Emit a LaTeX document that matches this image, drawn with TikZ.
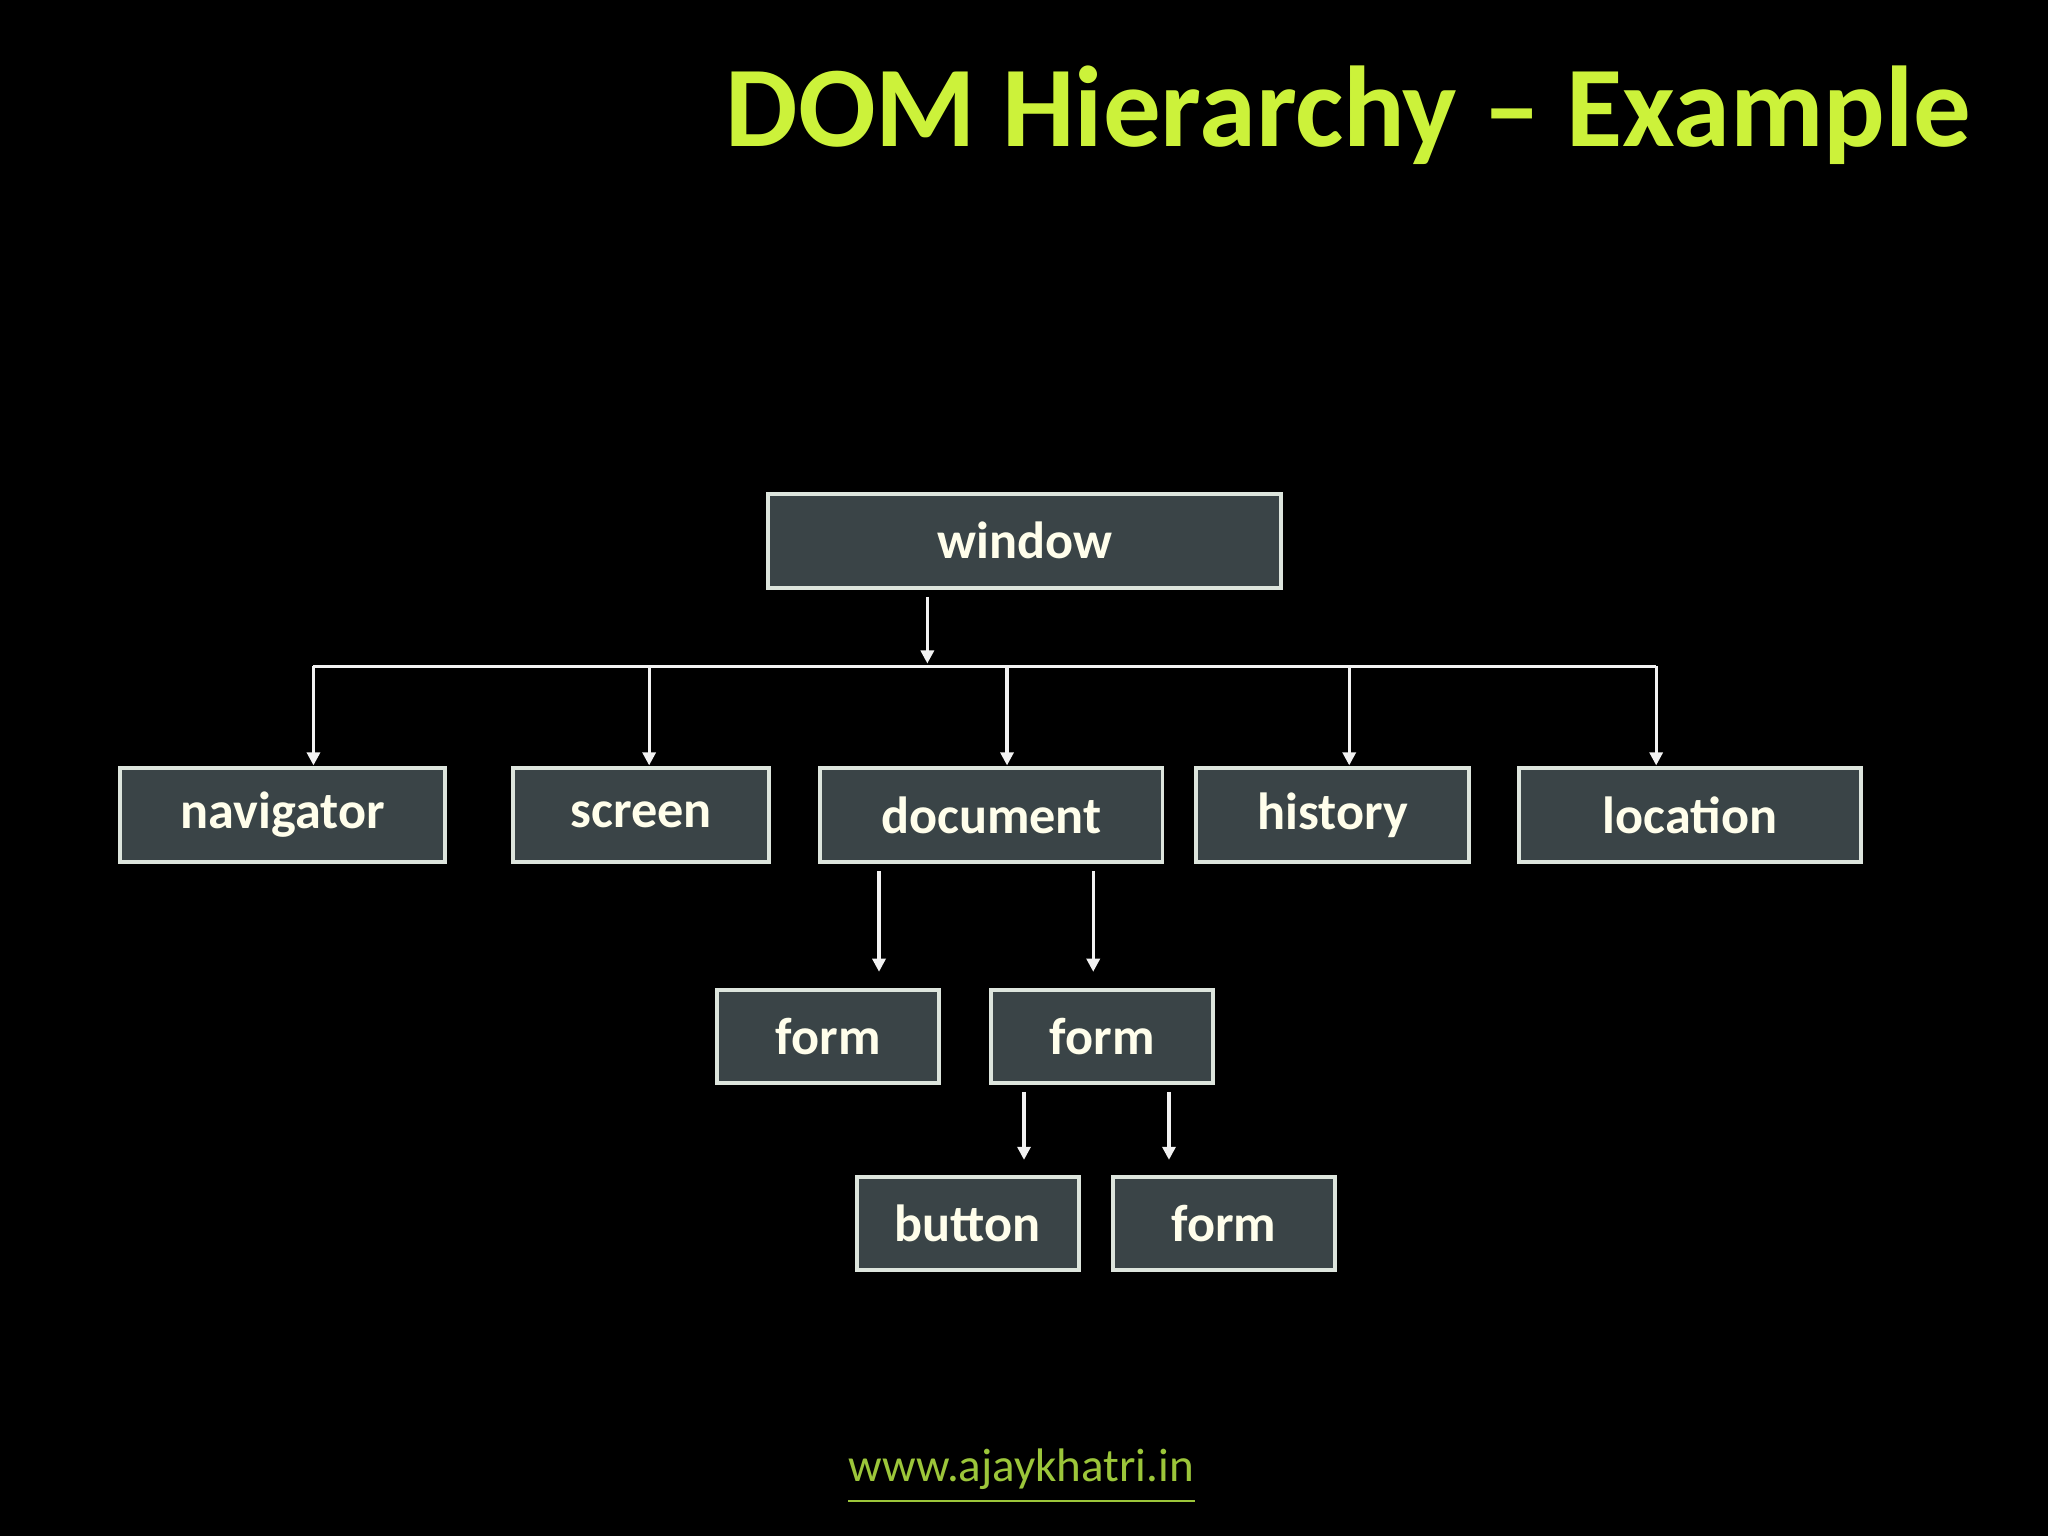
\documentclass[tikz,border=0pt]{standalone}
\usepackage{fontspec}
\setmainfont{Carlito}
\usetikzlibrary{arrows.meta}
\definecolor{boxfill}{HTML}{3A4447}
\definecolor{boxline}{HTML}{DDE5DD}
\definecolor{title}{HTML}{CCF23A}
\definecolor{link}{HTML}{9CC63A}
\begin{document}
\begin{tikzpicture}[x=0.5pt,y=-0.5pt,
  box/.style={draw=boxline,line width=1.5pt,fill=boxfill,text=white!92!yellow,font=\bfseries\fontsize{20}{24}\selectfont,inner sep=0pt},
  arr/.style={draw=white!90!gray,line width=1.2pt,-{Triangle[length=5pt,width=5pt]}},
  ln/.style={draw=white!90!gray,line width=1.2pt}]
\fill[black] (0,0) rectangle (1568,1176);
\useasboundingbox (0,0) rectangle (1568,1176);
\newcommand{\bx}[6]{\node[box,minimum width={(#3-#2)*0.5pt},minimum height={(#5-#4)*0.5pt}] (#1) at ({(#2+#3)/2},{(#4+#5)/2}) {#6};}
\bx{window}{588}{981}{378}{450}{window}
\bx{nav}{92}{341}{588}{660}{navigator}
\bx{scr}{393}{589}{588}{660}{screen}
\bx{doc}{628}{890}{588}{660}{document}
\bx{his}{916}{1125}{588}{660}{history}
\bx{loc}{1163}{1425}{588}{660}{location}
\bx{formA}{549}{719}{758}{829}{form}
\bx{formB}{759}{929}{758}{829}{form}
\bx{btn}{656}{826}{901}{972}{button}
\bx{formC}{852}{1022}{901}{972}{form}
\coordinate (hl) at (240,510);
\coordinate (hr) at (1268,510);
\draw[arr] (710,457) -- (710,508);
\draw[ln] (hl) -- (hr);
\foreach \x/\n in {240/nav,497/scr,771/doc,1033/his,1268/loc}
  \draw[arr] (\x,510) -- (\x,586);
\draw[arr] (673,667) -- (673,744);
\draw[arr] (837,667) -- (837,744);
\draw[arr] (784,836) -- (784,888);
\draw[arr] (895,836) -- (895,888);
\node[anchor=base east,text=title,font=\bfseries\fontsize{44}{50}\selectfont,inner sep=0pt] (t) at (1510,112) {DOM Hierarchy – Example};
\node[text=link,font=\fontsize{18}{22}\selectfont,inner sep=0pt] (url) at (782,1125) {www.ajaykhatri.in};
\draw[link,line width=0.8pt] ([yshift=-4pt]url.south west) -- ([yshift=-4pt]url.south east);
\end{tikzpicture}
\end{document}
